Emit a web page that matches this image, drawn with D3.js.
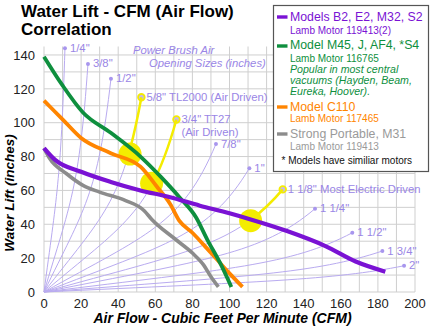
<html>
<head>
<title>Water Lift - CFM (Air Flow) Correlation</title>
<script src="https://d3js.org/d3.v7.min.js"></script>
<style>
  body { margin: 0; background: #fff; }
  text { font-family: "Liberation Sans", Arial, Helvetica, sans-serif; }
</style>
</head>
<body>
<script>

// axis ticks
var xTicks = [0, 20, 40, 60, 80, 100, 120, 140, 160, 180, 200];
var yTicks = [0, 20, 40, 60, 80, 100, 120, 140];

// motor curves: air flow (CFM) and water lift (inches)
var purpleCFM  = [0, 6, 20, 36, 52, 68, 84, 100, 111, 131, 152, 168, 184];
var purpleLift = [85, 78, 71, 65, 60, 56, 51, 46.5, 43, 36, 27, 18, 12];

var greenCFM  = [0, 10, 21, 36, 52, 63, 73, 82, 88, 95, 101];
var greenLift = [139, 122, 106, 94, 80, 68, 56, 44, 31, 17, 3];

var orangeCFM  = [0, 10, 20, 36, 52, 61, 68, 73, 80, 86, 95, 100, 107];
var orangeLift = [113, 102, 91, 82, 74, 62, 52, 42, 35, 28, 17, 11, 3];

var grayCFM  = [0, 3, 12, 21, 30, 44, 54, 58, 71, 80, 86, 90, 94];
var grayLift = [85, 79, 70, 63, 59, 54, 48, 43, 31, 23, 16, 9, 3];

// power brush opening sizes, end point of each curve
var openingLabels = ['1/4"', '3/8"', '1/2"', '5/8" TL2000 (Air Driven)', '3/4" TT27\n(Air Driven)', '7/8"', '1"',
                     '1 1/8" Most Electric Driven', '1 1/4"', '1 1/2"', '1 3/4"', '2"'];
var openingCFM  = [11.3, 23.7, 36.1, 52.5, 71.4, 92.7, 110.7, 128.7, 146.1, 166.2, 182.4, 194.1];
var openingLift = [144, 134.7, 126, 115, 101.9, 87.4, 73.1, 60.6, 49.2, 35, 24.2, 15.5];

// yellow markers: which opening, and where it meets a motor curve
var markOpening = [3, 4, 7];
var markCFM  = [46.4, 58, 111.4];
var markLift = [81.5, 64.2, 42.1];

var width = 432;
var height = 328;

var svg = d3.select("body")
            .append("svg")
            .attr("width", width)
            .attr("height", height);

var x = d3.scaleLinear().domain([0, 200]).range([44, 415]);
var y = d3.scaleLinear().domain([0, 145]).range([292, 46.5]);

// grid every 10
var g = svg.append("g");
g.selectAll(".vgrid")
  .data(d3.range(0, 201, 10))
  .enter().append("line")
  .attr("x1", d => x(d)).attr("x2", d => x(d))
  .attr("y1", y(0)).attr("y2", y(145))
  .attr("stroke", "#cfcfcf").attr("stroke-width", 1);
g.selectAll(".hgrid")
  .data(d3.range(0, 141, 10))
  .enter().append("line")
  .attr("x1", x(0)).attr("x2", x(200))
  .attr("y1", d => y(d)).attr("y2", d => y(d))
  .attr("stroke", "#cfcfcf").attr("stroke-width", 1);

// tick labels
g.selectAll(".xlab")
  .data(xTicks)
  .enter().append("text")
  .attr("x", d => x(d)).attr("y", 308)
  .attr("text-anchor", "middle")
  .attr("font-size", 13).attr("fill", "#222")
  .text(d => d);
g.selectAll(".ylab")
  .data(yTicks)
  .enter().append("text")
  .attr("x", 35).attr("y", d => y(d) + 4.7)
  .attr("text-anchor", "end")
  .attr("font-size", 13).attr("fill", "#222")
  .text(d => d);

// axis titles
svg.append("text")
  .attr("x", 222.5).attr("y", 323)
  .attr("text-anchor", "middle")
  .attr("font-size", 14).attr("font-weight", "bold").attr("font-style", "italic")
  .text("Air Flow - Cubic Feet Per Minute (CFM)");
svg.append("text")
  .attr("transform", "translate(14,193) rotate(-90)")
  .attr("text-anchor", "middle")
  .attr("font-size", 13.5).attr("font-weight", "bold").attr("font-style", "italic")
  .text("Water Lift (inches)");

// title
svg.append("text").attr("x", 21).attr("y", 17)
  .attr("font-size", 17).attr("font-weight", "bold")
  .text("Water Lift - CFM (Air Flow)");
svg.append("text").attr("x", 21).attr("y", 35)
  .attr("font-size", 17).attr("font-weight", "bold")
  .text("Correlation");

var lavender = "#b9abf0";
var labelColor = "#9a86e6";

svg.append("text").attr("x", 133).attr("y", 54)
  .attr("font-size", 11.3).attr("font-style", "italic").attr("fill", labelColor)
  .text("Power Brush Air");
svg.append("text").attr("x", 149).attr("y", 67)
  .attr("font-size", 11.3).attr("font-style", "italic").attr("fill", labelColor)
  .text("Opening Sizes (inches)");

// opening curves: bent bezier from the origin up to the end point
function openingPath(cfm, lift) {
  return "M" + x(0) + "," + y(0) +
         " C" + x(cfm * 0.6) + "," + y(lift * 0.39) +
         " " + x(cfm * 0.8) + "," + y(lift * 0.45) +
         " " + x(cfm) + "," + y(lift);
}

var curves = svg.append("g");
var paths = curves.selectAll("path")
  .data(openingCFM)
  .enter().append("path")
  .attr("d", (d, i) => openingPath(openingCFM[i], openingLift[i]))
  .attr("fill", "none")
  .attr("stroke", lavender)
  .attr("stroke-width", 1);

// yellow part of the highlighted curves, from the marker up to the end
var yellow = "#f4ec00";
var marks = svg.append("g");
markOpening.forEach(function (k, m) {
  var node = paths.nodes()[k];
  var total = node.getTotalLength();
  var lo = 0, hi = total;
  for (var it = 0; it < 30; it++) {
    var mid = (lo + hi) / 2;
    if (node.getPointAtLength(mid).x < x(markCFM[m])) lo = mid; else hi = mid;
  }
  marks.append("path")
    .attr("d", openingPath(openingCFM[k], openingLift[k]))
    .attr("fill", "none")
    .attr("stroke", yellow)
    .attr("stroke-width", 2.5)
    .attr("stroke-dasharray", "0," + lo + "," + (total + 5));
  marks.append("circle")
    .attr("cx", x(markCFM[m])).attr("cy", y(markLift[m]))
    .attr("r", 11.5)
    .attr("fill", yellow);
});

// end dots and labels
curves.selectAll("circle")
  .data(openingCFM)
  .enter().append("circle")
  .attr("cx", (d, i) => x(openingCFM[i]))
  .attr("cy", (d, i) => y(openingLift[i]))
  .attr("r", (d, i) => markOpening.indexOf(i) >= 0 ? 3.3 : 2)
  .attr("fill", (d, i) => markOpening.indexOf(i) >= 0 ? "#c4b6f4" : "#a896ee")
  .attr("stroke", (d, i) => markOpening.indexOf(i) >= 0 ? yellow : "none")
  .attr("stroke-width", 1.8);

var labels = svg.append("g").selectAll("text")
  .data(openingLabels)
  .enter().append("text")
  .attr("x", (d, i) => x(openingCFM[i]) + 5)
  .attr("y", (d, i) => y(openingLift[i]) + 3.5)
  .attr("font-size", 11.3)
  .attr("fill", labelColor);
labels.each(function (d, i) {
  var parts = d.split("\n");
  var t = d3.select(this);
  parts.forEach(function (p, j) {
    t.append("tspan")
      .attr("x", x(openingCFM[i]) + 5)
      .attr("dy", j == 0 ? 0 : 13.3)
      .text(p);
  });
});

// motor curves
function drawLine(cfm, lift, color, w) {
  var pts = cfm.map((c, i) => [c, lift[i]]);
  svg.append("path")
    .datum(pts)
    .attr("d", d3.line().x(d => x(d[0])).y(d => y(d[1])).curve(d3.curveMonotoneX))
    .attr("fill", "none")
    .attr("stroke", color)
    .attr("stroke-width", w)
    .attr("stroke-linejoin", "round");
}
drawLine(grayCFM, grayLift, "#8c8c8c", 3.6);
drawLine(orangeCFM, orangeLift, "#ff8500", 3.8);
drawLine(greenCFM, greenLift, "#0e8f3e", 3.8);
drawLine(purpleCFM, purpleLift, "#7a12d4", 4.2);

// legend
var legend = svg.append("g");
legend.append("rect")
  .attr("x", 273.5).attr("y", 5.5)
  .attr("width", 155).attr("height", 166)
  .attr("fill", "#fff")
  .attr("stroke", "#555").attr("stroke-width", 1.2);

var swatchColors = ["#7a12d4", "#0e8f3e", "#ff8500", "#8c8c8c"];
var swatchY = [17, 46, 107, 134];
legend.selectAll("line")
  .data(swatchY)
  .enter().append("line")
  .attr("x1", 277).attr("x2", 287.5)
  .attr("y1", d => d).attr("y2", d => d)
  .attr("stroke", (d, i) => swatchColors[i])
  .attr("stroke-width", 3.4);

var legendText = [
  ["Models B2, E2, M32, S2", 21, 12.3, "normal", "#7a12d4"],
  ["Lamb Motor 119413(2)", 33.5, 10, "normal", "#7a12d4"],
  ["Model M45, J, AF4, *S4", 48.5, 12.3, "normal", "#0e8f3e"],
  ["Lamb Motor 116765", 62, 10, "normal", "#0e8f3e"],
  ["Popular in most central", 73, 10.6, "italic", "#0e8f3e"],
  ["vacuums (Hayden, Beam,", 84, 10.6, "italic", "#0e8f3e"],
  ["Eureka, Hoover).", 95, 10.6, "italic", "#0e8f3e"],
  ["Model C110", 111, 12.3, "normal", "#ff8500"],
  ["Lamb Motor 117465", 122, 10, "normal", "#ff8500"],
  ["Strong Portable, M31", 137.5, 12.3, "normal", "#9a9a9a"],
  ["Lamb Motor 119413", 149.5, 10, "normal", "#9a9a9a"]
];
legend.selectAll(".lt")
  .data(legendText)
  .enter().append("text")
  .attr("x", 290)
  .attr("y", d => d[1])
  .attr("font-size", d => d[2])
  .attr("font-style", d => d[3])
  .attr("fill", d => d[4])
  .text(d => d[0]);
legend.append("text")
  .attr("x", 281.5).attr("y", 164)
  .attr("font-size", 10).attr("fill", "#111")
  .text("* Models have similiar motors");

</script>
</body>
</html>
